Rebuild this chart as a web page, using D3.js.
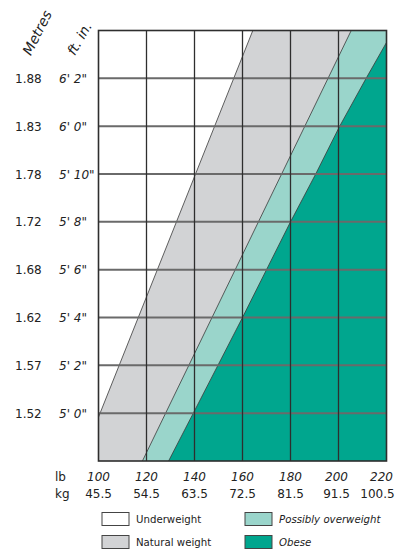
<!DOCTYPE html>
<html><head><meta charset="utf-8">
<script src="https://cdn.jsdelivr.net/npm/d3@7"></script>
<style>
html,body{margin:0;padding:0;background:#fff;}
svg{display:block;font-family:"DejaVu Sans",sans-serif;}
</style></head><body>
<script>
// ---- data ----
const lbTicks = [100,120,140,160,180,200,220];
const kgLabels = ["45.5","54.5","63.5","72.5","81.5","91.5","100.5"];
const heightTicks = [60,62,64,66,68,70,72,74];           // inches
const metreLabels = ["1.52","1.57","1.62","1.68","1.72","1.78","1.83","1.88"];
const ftLabels = ["5' 0\"","5' 2\"","5' 4\"","5' 6\"","5' 8\"","5' 10\"","6' 0\"","6' 2\""];
// boundary lines: [lb, inches]
const underweightBoundary = [[92.7,58],[164.3,76]];
const naturalBoundary = [[118.3,58],[205.3,76]];
const overweightBoundary = [[129.2,58],[139.5,60],[160,64],[170,66],[180,68],[190.5,70],[200.5,72],[211.5,74],[220,75.5],[222,76]];
const legendNames = ["Underweight","Natural weight","Possibly overweight","Obese"];
const legendColors = ["#ffffff","#d2d3d5","#9ad5cb","#00a68e"];

const W = 411, H = 558;
const svg = d3.select("body").append("svg").attr("width",W).attr("height",H);

const x = d3.scaleLinear().domain([100,220]).range([98.5,386.5]);
const y = d3.scaleLinear().domain([58,76]).range([461,30.5]);

const defs = svg.append("defs");
defs.append("clipPath").attr("id","plotclip").append("rect")
  .attr("x",x(100)).attr("y",y(76)).attr("width",x(220)-x(100)).attr("height",y(58)-y(76));

const plot = svg.append("g").attr("clip-path","url(#plotclip)");
// base: obese
plot.append("rect").attr("x",x(100)).attr("y",y(76)).attr("width",x(220)-x(100)).attr("height",y(58)-y(76))
  .attr("fill",legendColors[3]);

const line = d3.line().x(d=>x(d[0])).y(d=>y(d[1]));
function leftRegion(b){
  const pts = b.slice().sort((a,c)=>a[1]-c[1]);
  return pts.concat([[80,pts[pts.length-1][1]],[80,pts[0][1]]]);
}
[[overweightBoundary,legendColors[2]],[naturalBoundary,legendColors[1]],[underweightBoundary,legendColors[0]]]
 .forEach(([b,c])=>{
  plot.append("path").attr("d",line(leftRegion(b))+"Z").attr("fill",c);
 });
[underweightBoundary,naturalBoundary,overweightBoundary].forEach(b=>{
  plot.append("path").attr("d",line(b)).attr("fill","none").attr("stroke","#3a3a3a").attr("stroke-width",0.8);
});

// grid
svg.append("g").selectAll("line").data(heightTicks).join("line")
  .attr("x1",x(100)).attr("x2",x(220)).attr("y1",d=>y(d)).attr("y2",d=>y(d))
  .attr("stroke","#6a6a6a").attr("stroke-width",2);
svg.append("g").selectAll("line").data(lbTicks.slice(1,-1)).join("line")
  .attr("x1",d=>x(d)).attr("x2",d=>x(d)).attr("y1",y(76)).attr("y2",y(58))
  .attr("stroke","#2e2e2e").attr("stroke-width",1.3);
svg.append("rect").attr("x",x(100)).attr("y",y(76)).attr("width",x(220)-x(100)).attr("height",y(58)-y(76))
  .attr("fill","none").attr("stroke","#2e2e2e").attr("stroke-width",1.6);

// y labels
svg.append("g").selectAll("text").data(heightTicks).join("text")
  .attr("x",15).attr("y",d=>y(d)+4.5).attr("font-size",12).attr("fill","#222")
  .text((d,i)=>metreLabels[i]);
svg.append("g").selectAll("text").data(heightTicks).join("text")
  .attr("x",59).attr("y",d=>y(d)+4.5).attr("font-size",12).attr("font-style","italic").attr("fill","#222")
  .text((d,i)=>ftLabels[i]);
svg.append("text").attr("transform","translate(38,33) rotate(-63)").attr("text-anchor","middle")
  .attr("dominant-baseline","middle").attr("font-size",14).attr("font-style","italic").attr("fill","#222").text("Metres");
svg.append("text").attr("transform","translate(80,39) rotate(-60)").attr("text-anchor","middle")
  .attr("dominant-baseline","middle").attr("font-size",13.5).attr("font-style","italic").attr("fill","#222").text("ft. in.");

// x labels
svg.append("text").attr("x",55).attr("y",481).attr("font-size",12).attr("fill","#222").text("lb");
svg.append("text").attr("x",55).attr("y",497.5).attr("font-size",12).attr("fill","#222").text("kg");
svg.append("g").selectAll("text").data(lbTicks).join("text")
  .attr("x",(d,i)=>x(d)-(i===lbTicks.length-1?5:(i===lbTicks.length-2?2:0))).attr("y",481)
  .attr("text-anchor","middle").attr("font-size",12).attr("font-style","italic").attr("fill","#222").text(d=>d);
svg.append("g").selectAll("text").data(lbTicks).join("text")
  .attr("x",(d,i)=>x(d)-(i===lbTicks.length-1?9:(i===lbTicks.length-2?2:0))).attr("y",497.5)
  .attr("text-anchor","middle").attr("font-size",12).attr("fill","#222").text((d,i)=>kgLabels[i]);

// legend
const order = [0,2,1,3];
const lg = svg.append("g").selectAll("g").data(order).join("g")
  .attr("transform",(d,i)=>`translate(${i%2===0?102:245},${i<2?512.5:535.5})`);
lg.append("rect").attr("width",27).attr("height",13).attr("fill",d=>legendColors[d])
  .attr("stroke","#444").attr("stroke-width",1);
lg.append("text").attr("x",34).attr("y",10.5).attr("font-size",10.2).attr("fill","#222")
  .attr("font-style",d=>d>=2?"italic":"normal").text(d=>legendNames[d]);
</script>
</body></html>
